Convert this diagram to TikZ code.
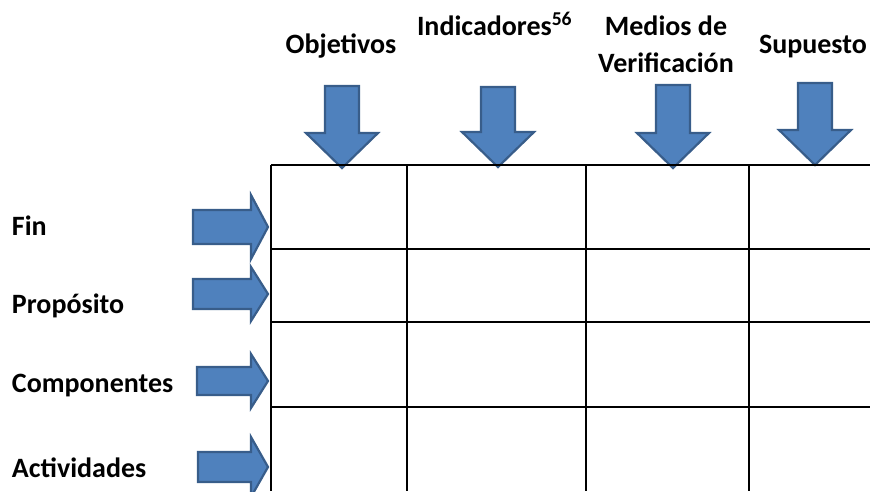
\documentclass[tikz,border=0pt]{standalone}
\usepackage{fontspec}
\setmainfont{Carlito}
\usetikzlibrary{positioning}
\definecolor{blockfill}{HTML}{4F81BD}
\definecolor{blockline}{HTML}{385D8A}
\begin{document}
\begin{tikzpicture}[x=1pt,y=-1pt]
  \tikzstyle{label}=[inner sep=0pt,outer sep=0pt,font=\fontsize{28}{37}\selectfont\bfseries]
  \tikzstyle{block}=[fill=blockfill, draw=blockline, line width=2.2pt, line join=miter]
  \tikzstyle{grid}=[black, line width=2pt]

  \useasboundingbox (0,0) rectangle (870,491);
  \clip (0,0) rectangle (870,491);

  % column headings
  \node [label,anchor=base] (obj) at (341,53) {Objetivos};
  \node [label,anchor=base west] (ind) at (417,35) {Indicadores\textsuperscript{56}};
  \node [label,anchor=base,align=center] (med) at (666,72) {Medios de\\Verificación};
  \node [label,anchor=base west] (sup) at (759,53) {Supuesto};

  % row headings
  \node [label,anchor=base west] (fin) at (12,235) {Fin};
  \node [label,anchor=base west] (pro) at (12,313) {Propósito};
  \node [label,anchor=base west] (com) at (12,392) {Componentes};
  \node [label,anchor=base west] (act) at (12,477) {Actividades};

  % down arrows: centre x, top, tip
  \foreach \cx/\top/\tip in {342/86/168, 498/87/167, 673/85/168, 815/83/165}
    \draw [block] (\cx-17,\top) -- (\cx+17,\top) -- (\cx+17,\tip-35) -- (\cx+36,\tip-35)
      -- (\cx,\tip) -- (\cx-36,\tip-35) -- (\cx-17,\tip-35) -- cycle;

  % right arrows: left x, centre y, shaft half, head half
  \foreach \lx/\cy/\sh/\hh in {193/227/17/32, 193/294/15/27, 197/381/14/27, 198/467/15/30}
    \draw [block] (\lx,\cy-\sh) -- (251,\cy-\sh) -- (251,\cy-\hh) -- (268,\cy)
      -- (251,\cy+\hh) -- (251,\cy+\sh) -- (\lx,\cy+\sh) -- cycle;

  % matrix lines
  \foreach \y in {165,249,322,407}
    \draw [grid] (271,\y) -- (870,\y);
  \foreach \x in {271,407,586,749}
    \draw [grid] (\x,165) -- (\x,491);
\end{tikzpicture}
\end{document}
